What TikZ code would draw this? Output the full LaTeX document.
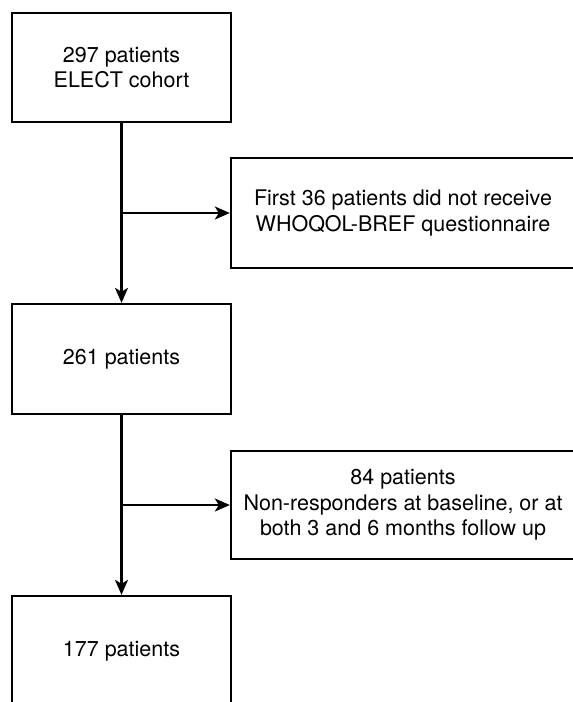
\documentclass[tikz,border=0pt]{standalone}
\usepackage{fontspec}
\setmainfont{TeX Gyre Heros}
\usetikzlibrary{arrows.meta}
\begin{document}
\begin{tikzpicture}[x=1pt,y=-1pt,
  box/.style={draw=black, line width=2.3pt, fill=white, align=center, inner sep=0pt,
    font=\fontsize{21.5}{25.5}\selectfont},
  link/.style={draw=black, line width=2.2pt},
  arr/.style={link, -{Stealth[length=15pt,width=13pt,inset=4pt]}}]
\clip (0,0) rectangle (573,702);
\fill[white] (0,0) rectangle (573,702);
\node[box, minimum width=219pt, minimum height=109pt] (b1) at (121.5,67.5) {297 patients\\ELECT cohort};
\node[box, minimum width=344pt, minimum height=110pt] (s1) at (403,213) {First 36 patients did not receive\\WHOQOL-BREF questionnaire};
\node[box, minimum width=219pt, minimum height=110pt] (b2) at (121.5,359) {261 patients};
\node[box, minimum width=344pt, minimum height=108pt] (s2) at (403,505) {84 patients\\Non-responders at baseline, or at\\both 3 and 6 months follow up};
\node[box, minimum width=219pt, minimum height=110pt] (b3) at (121.5,651) {177 patients};
\coordinate (j1) at (b1.south |- s1.west);
\coordinate (j2) at (b2.south |- s2.west);
\draw[arr] (b1.south) -- (b2.north);
\draw[arr] (j1) -- (s1.west);
\draw[arr] (b2.south) -- (b3.north);
\draw[arr] (j2) -- (s2.west);
\end{tikzpicture}
\end{document}
